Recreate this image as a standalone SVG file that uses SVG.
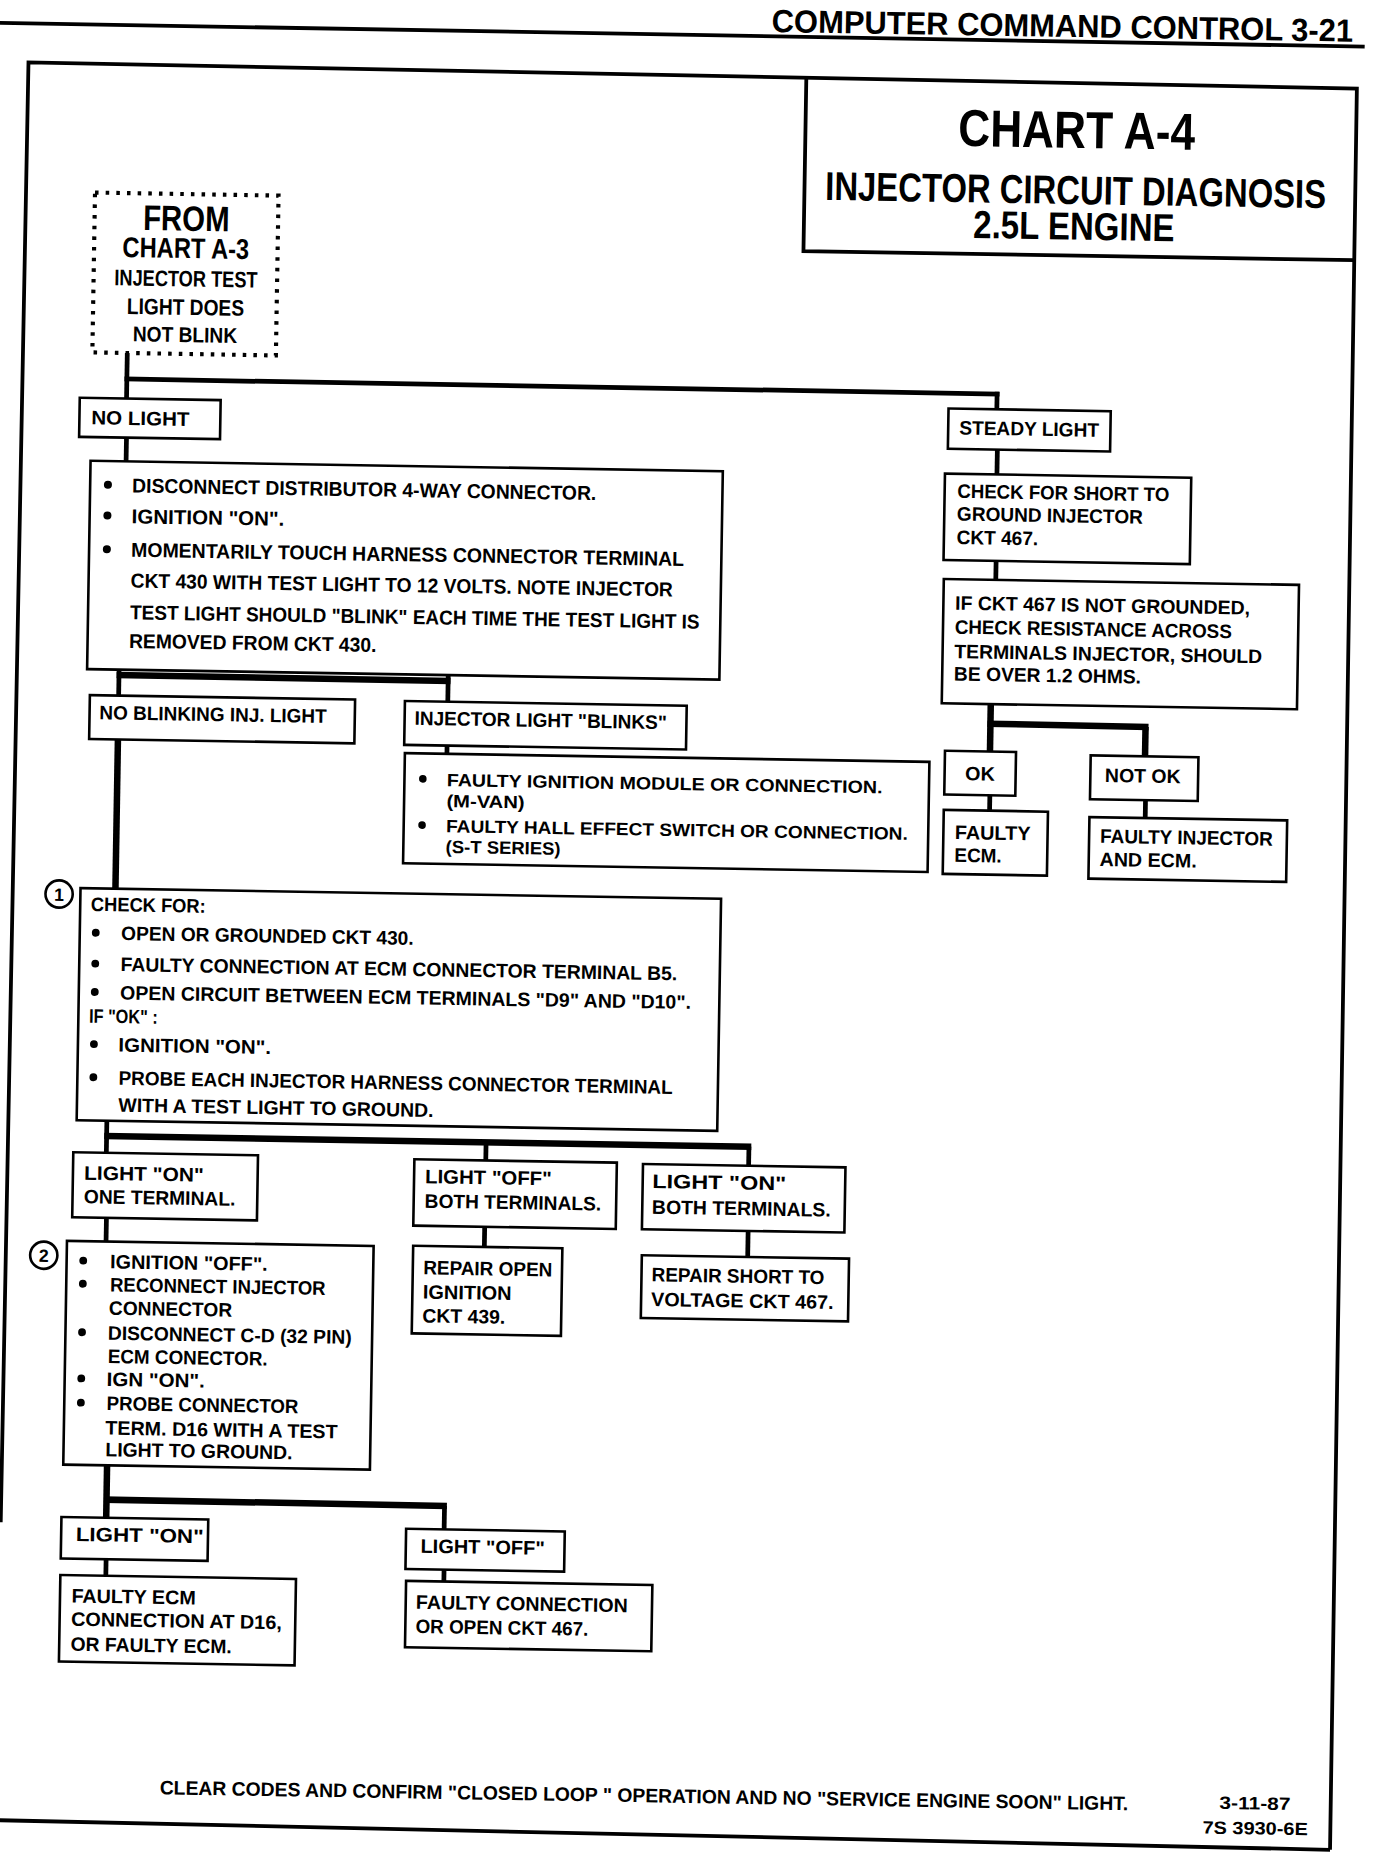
<svg xmlns="http://www.w3.org/2000/svg" width="1376" height="1856" viewBox="0 0 1376 1856">
<style>
.b{fill:#fff;stroke:#000;stroke-width:2.2}
.c{fill:none;stroke:#000;stroke-width:4}
.k{stroke-width:5.5}
.f{fill:none;stroke:#000;stroke-width:3.2}
.t{font-family:"Liberation Sans",Arial,sans-serif;font-weight:700;fill:#000}
.s15{font-size:15px}.s16{font-size:16.5px}.s17{font-size:17px}
.m{text-anchor:middle}
.d{fill:#000}
</style>
<rect width="1376" height="1856" fill="#fff"/>
<g transform="scale(1.18417) rotate(0.95 581 784)">
<g id="frame">
<path class="f" d="M-20,29 L1140,30" stroke-width="3.8"/>
<text class="t" x="639" y="26" font-size="27" textLength="491" lengthAdjust="spacingAndGlyphs">COMPUTER COMMAND CONTROL  3-21</text>
<path class="f" d="M9,1295 L12,62 L1134,65.6 L1136,1553"/>
<path class="f" d="M-20,1546.5 L1136,1553" stroke-width="3.8"/>
<text class="t s16" x="147" y="1522.5" textLength="818" lengthAdjust="spacingAndGlyphs">CLEAR CODES AND CONFIRM "CLOSED LOOP " OPERATION AND NO "SERVICE ENGINE SOON" LIGHT.</text>
<text class="t s15" x="1042" y="1520" textLength="60" lengthAdjust="spacingAndGlyphs">3-11-87</text>
<text class="t s15" x="1028" y="1541" textLength="89" lengthAdjust="spacingAndGlyphs">7S 3930-6E</text>
</g>
<g id="title">
<path class="f" d="M669,65 L669,210.5 L1134,210.5" stroke-width="2.6"/>
<text class="t m" x="898" y="119.5" font-size="44" textLength="200" lengthAdjust="spacingAndGlyphs">CHART A-4</text>
<text class="t m" x="898" y="167" font-size="34" textLength="423" lengthAdjust="spacingAndGlyphs">INJECTOR CIRCUIT DIAGNOSIS</text>
<text class="t m" x="897" y="197" font-size="33" textLength="170" lengthAdjust="spacingAndGlyphs">2.5L ENGINE</text>
</g>
<g id="connectors">
<line class="c" x1="99.5" y1="305" x2="99.5" y2="344"/>
<line class="c" x1="97.5" y1="328" x2="836.5" y2="328.5"/>
<line class="c" x1="834.5" y1="326.5" x2="834.5" y2="341"/>
<line class="c" x1="100" y1="377" x2="100" y2="397.5"/>
<line class="c" x1="97" y1="573" x2="97" y2="595.5"/>
<line class="c k" x1="95" y1="578" x2="377" y2="578.5"/>
<line class="c" x1="375" y1="573.5" x2="375" y2="596"/>
<line class="c" x1="375" y1="633" x2="375" y2="640"/>
<line class="c k" x1="97" y1="632.5" x2="97" y2="758.5"/>
<line class="c" x1="93" y1="954.5" x2="93" y2="981.5"/>
<line class="c k" x1="91" y1="967.5" x2="637.5" y2="967.5"/>
<line class="c" x1="413.5" y1="967.5" x2="413.5" y2="983"/>
<line class="c" x1="635.5" y1="967.5" x2="635.5" y2="983.5"/>
<line class="c" x1="413.5" y1="1038.5" x2="413.5" y2="1055.8"/>
<line class="c" x1="636" y1="1038.5" x2="636" y2="1060.5"/>
<line class="c" x1="94" y1="1036.5" x2="94" y2="1056.5"/>
<line class="c k" x1="98" y1="1245.5" x2="98" y2="1290"/>
<line class="c k" x1="96" y1="1274.5" x2="385.5" y2="1275"/>
<line class="c" x1="383.5" y1="1275" x2="383.5" y2="1295"/>
<line class="c" x1="98.5" y1="1325" x2="98.5" y2="1339"/>
<line class="c" x1="384" y1="1329" x2="384" y2="1339"/>
<line class="c" x1="835.5" y1="375.5" x2="835.5" y2="396.5"/>
<line class="c" x1="836" y1="469.5" x2="836" y2="485.5"/>
<line class="c k" x1="833.5" y1="590.5" x2="833.5" y2="630.5"/>
<line class="c k" x1="831" y1="607" x2="967" y2="607.5"/>
<line class="c k" x1="964.5" y1="607.5" x2="964.5" y2="632.5"/>
<line class="c" x1="834" y1="667.5" x2="834" y2="680.5"/>
<line class="c" x1="965.5" y1="669.5" x2="965.5" y2="684.5"/>
</g>
<g id="from">
<rect x="70" y="171" width="155" height="135" fill="#fff" stroke="#000" stroke-width="3.5" stroke-dasharray="3 6"/>
<text class="t m" x="147.5" y="202" font-size="30" textLength="73" lengthAdjust="spacingAndGlyphs">FROM</text>
<text class="t m" x="147.5" y="225" font-size="24" textLength="107" lengthAdjust="spacingAndGlyphs">CHART A-3</text>
<text class="t m" x="148" y="249" font-size="19" textLength="121" lengthAdjust="spacingAndGlyphs">INJECTOR TEST</text>
<text class="t m" x="148" y="273" font-size="19" textLength="99" lengthAdjust="spacingAndGlyphs">LIGHT DOES</text>
<text class="t m" x="148" y="296" font-size="18" textLength="88" lengthAdjust="spacingAndGlyphs">NOT BLINK</text>
</g>
<g id="no-light">
<rect class="b" x="60" y="344.5" width="119" height="33"/>
<text class="t s16" x="70" y="366.7" textLength="83" lengthAdjust="spacingAndGlyphs">NO LIGHT</text>
</g>
<g id="step1">
<rect class="b" x="70" y="397.5" width="534" height="176"/>
<circle class="d" cx="85" cy="417.5" r="3.4"/><circle class="d" cx="85" cy="443.5" r="3.4"/><circle class="d" cx="85" cy="472" r="3.4"/>
<text class="t s17" x="105.5" y="423.7" textLength="392" lengthAdjust="spacingAndGlyphs">DISCONNECT DISTRIBUTOR 4-WAY CONNECTOR.</text>
<text class="t s17" x="105.5" y="449.8" textLength="129" lengthAdjust="spacingAndGlyphs">IGNITION "ON".</text>
<text class="t s17" x="105.5" y="478" textLength="467" lengthAdjust="spacingAndGlyphs">MOMENTARILY TOUCH HARNESS CONNECTOR TERMINAL</text>
<text class="t s17" x="105.5" y="504" textLength="458" lengthAdjust="spacingAndGlyphs">CKT 430 WITH TEST LIGHT TO 12 VOLTS.  NOTE INJECTOR</text>
<text class="t s17" x="105.5" y="530.8" textLength="481" lengthAdjust="spacingAndGlyphs">TEST LIGHT SHOULD "BLINK" EACH TIME THE TEST LIGHT IS</text>
<text class="t s17" x="105" y="555" textLength="209" lengthAdjust="spacingAndGlyphs">REMOVED FROM CKT 430.</text>
</g>
<g id="no-blinking">
<rect class="b" x="72.7" y="595.4" width="224" height="37"/>
<text class="t s16" x="81" y="615.6" textLength="192" lengthAdjust="spacingAndGlyphs">NO BLINKING INJ. LIGHT</text>
</g>
<g id="light-blinks">
<rect class="b" x="338.8" y="596" width="238" height="37"/>
<text class="t s16" x="347.2" y="616" textLength="213" lengthAdjust="spacingAndGlyphs">INJECTOR LIGHT "BLINKS"</text>
</g>
<g id="faulty-module">
<rect class="b" x="339.5" y="640" width="443" height="93"/>
<circle class="d" cx="355" cy="661.5" r="3.2"/><circle class="d" cx="355" cy="700.5" r="3.2"/>
<text class="t s15" x="375.3" y="667.3" textLength="368" lengthAdjust="spacingAndGlyphs">FAULTY IGNITION MODULE OR CONNECTION.</text>
<text class="t s15" x="375.3" y="685" textLength="66" lengthAdjust="spacingAndGlyphs">(M-VAN)</text>
<text class="t s15" x="375.3" y="706.2" textLength="390" lengthAdjust="spacingAndGlyphs">FAULTY HALL EFFECT SWITCH OR CONNECTION.</text>
<text class="t s15" x="375.3" y="723.7" textLength="97" lengthAdjust="spacingAndGlyphs">(S-T SERIES)</text>
</g>
<g id="check-for">
<circle cx="49.5" cy="763.8" r="11.5" fill="#fff" stroke="#000" stroke-width="2.2"/>
<text class="t m" x="49.5" y="769.5" font-size="15">1</text>
<rect class="b" x="67.5" y="758.5" width="541" height="196"/>
<text class="t s16" x="76.5" y="777.6" textLength="97" lengthAdjust="spacingAndGlyphs">CHECK FOR:</text>
<circle class="d" cx="81" cy="796" r="3.3"/><circle class="d" cx="81" cy="822" r="3.3"/><circle class="d" cx="81" cy="846" r="3.3"/><circle class="d" cx="81" cy="890" r="3.3"/><circle class="d" cx="81" cy="918" r="3.3"/>
<text class="t s16" x="102.5" y="801.8" textLength="247" lengthAdjust="spacingAndGlyphs">OPEN OR GROUNDED CKT 430.</text>
<text class="t s16" x="102.5" y="828" textLength="470" lengthAdjust="spacingAndGlyphs">FAULTY CONNECTION AT ECM CONNECTOR TERMINAL B5.</text>
<text class="t s16" x="102.5" y="852" textLength="482" lengthAdjust="spacingAndGlyphs">OPEN CIRCUIT BETWEEN ECM TERMINALS "D9" AND "D10".</text>
<text class="t s16" x="76.5" y="872" textLength="58" lengthAdjust="spacingAndGlyphs">IF "OK" :</text>
<text class="t s16" x="101.7" y="896" textLength="129" lengthAdjust="spacingAndGlyphs">IGNITION "ON".</text>
<text class="t s16" x="102.3" y="924" textLength="468" lengthAdjust="spacingAndGlyphs">PROBE EACH  INJECTOR HARNESS CONNECTOR TERMINAL</text>
<text class="t s16" x="102.6" y="946.8" textLength="266" lengthAdjust="spacingAndGlyphs">WITH A TEST LIGHT TO GROUND.</text>
</g>
<g id="on-one">
<rect class="b" x="65.1" y="981.6" width="156" height="55"/>
<text class="t s16" x="74.6" y="1004.6" textLength="101" lengthAdjust="spacingAndGlyphs">LIGHT  "ON"</text>
<text class="t s16" x="74.6" y="1024.5" textLength="128" lengthAdjust="spacingAndGlyphs">ONE TERMINAL.</text>
</g>
<g id="off-both">
<rect class="b" x="353.2" y="982.8" width="171" height="56"/>
<text class="t s16" x="362.5" y="1002.8" textLength="107" lengthAdjust="spacingAndGlyphs">LIGHT  "OFF"</text>
<text class="t s16" x="362.5" y="1023.5" textLength="149" lengthAdjust="spacingAndGlyphs">BOTH TERMINALS.</text>
</g>
<g id="on-both">
<rect class="b" x="546.3" y="983.6" width="171" height="55"/>
<text class="t s16" x="554.5" y="1003.7" textLength="113" lengthAdjust="spacingAndGlyphs">LIGHT "ON"</text>
<text class="t s16" x="554.5" y="1025.4" textLength="151" lengthAdjust="spacingAndGlyphs">BOTH TERMINALS.</text>
</g>
<g id="repair-open">
<rect class="b" x="353.4" y="1055.8" width="126" height="74"/>
<text class="t s16" x="362.2" y="1079.8" textLength="109" lengthAdjust="spacingAndGlyphs">REPAIR OPEN</text>
<text class="t s16" x="362.2" y="1100.3" textLength="75" lengthAdjust="spacingAndGlyphs">IGNITION</text>
<text class="t s16" x="362.2" y="1120.4" textLength="70" lengthAdjust="spacingAndGlyphs">CKT 439.</text>
</g>
<g id="repair-short">
<rect class="b" x="546.6" y="1060.6" width="175" height="53"/>
<text class="t s16" x="555.1" y="1082.5" textLength="146" lengthAdjust="spacingAndGlyphs">REPAIR SHORT TO</text>
<text class="t s16" x="555.1" y="1103.4" textLength="154" lengthAdjust="spacingAndGlyphs">VOLTAGE CKT 467.</text>
</g>
<g id="step2">
<circle cx="41.6" cy="1069" r="11.5" fill="#fff" stroke="#000" stroke-width="2.2"/>
<text class="t m" x="41.6" y="1074.5" font-size="15">2</text>
<rect class="b" x="61" y="1056.5" width="259" height="189"/>
<circle class="d" cx="75" cy="1073" r="3.3"/><circle class="d" cx="75" cy="1092.5" r="3.3"/><circle class="d" cx="75" cy="1133.5" r="3.3"/><circle class="d" cx="75" cy="1172.5" r="3.3"/><circle class="d" cx="75" cy="1193" r="3.3"/>
<text class="t s16" x="97.8" y="1079.1" textLength="133" lengthAdjust="spacingAndGlyphs">IGNITION "OFF".</text>
<text class="t s16" x="98" y="1098.6" textLength="182" lengthAdjust="spacingAndGlyphs">RECONNECT INJECTOR</text>
<text class="t s16" x="97.4" y="1118.3" textLength="104" lengthAdjust="spacingAndGlyphs">CONNECTOR</text>
<text class="t s16" x="96.8" y="1139.5" textLength="206" lengthAdjust="spacingAndGlyphs">DISCONNECT C-D (32 PIN)</text>
<text class="t s16" x="97.1" y="1159.1" textLength="135" lengthAdjust="spacingAndGlyphs">ECM CONECTOR.</text>
<text class="t s16" x="96.4" y="1178.5" textLength="83" lengthAdjust="spacingAndGlyphs">IGN "ON".</text>
<text class="t s16" x="96.8" y="1198.8" textLength="162" lengthAdjust="spacingAndGlyphs">PROBE CONNECTOR</text>
<text class="t s16" x="96.1" y="1219.6" textLength="196" lengthAdjust="spacingAndGlyphs">TERM. D16 WITH A TEST</text>
<text class="t s16" x="96.4" y="1237.9" textLength="158" lengthAdjust="spacingAndGlyphs">LIGHT TO GROUND.</text>
</g>
<g id="light-on">
<rect class="b" x="60.2" y="1289.8" width="124" height="35"/>
<text class="t s16" x="72.6" y="1309.8" textLength="108" lengthAdjust="spacingAndGlyphs">LIGHT "ON"</text>
</g>
<g id="light-off">
<rect class="b" x="351.4" y="1294.9" width="134" height="34"/>
<text class="t s16" x="363.8" y="1315" textLength="105" lengthAdjust="spacingAndGlyphs">LIGHT "OFF"</text>
</g>
<g id="faulty-ecm-d16">
<rect class="b" x="60.1" y="1338.8" width="199" height="73"/>
<text class="t s16" x="69.8" y="1361.8" textLength="105" lengthAdjust="spacingAndGlyphs">FAULTY ECM</text>
<text class="t s16" x="69.8" y="1381.5" textLength="178" lengthAdjust="spacingAndGlyphs">CONNECTION AT D16,</text>
<text class="t s16" x="69.8" y="1402.6" textLength="136" lengthAdjust="spacingAndGlyphs">OR FAULTY ECM.</text>
</g>
<g id="faulty-connection">
<rect class="b" x="352.1" y="1338.9" width="208" height="56"/>
<text class="t s16" x="360.7" y="1362.3" textLength="179" lengthAdjust="spacingAndGlyphs">FAULTY CONNECTION</text>
<text class="t s16" x="360.7" y="1382.7" textLength="146" lengthAdjust="spacingAndGlyphs">OR OPEN CKT 467.</text>
</g>
<g id="steady-light">
<rect class="b" x="793.7" y="341.4" width="137" height="34"/>
<text class="t s16" x="803.1" y="363.2" textLength="118" lengthAdjust="spacingAndGlyphs">STEADY LIGHT</text>
</g>
<g id="check-short">
<rect class="b" x="791.6" y="396.4" width="208" height="73"/>
<text class="t s16" x="802.3" y="416.7" textLength="179" lengthAdjust="spacingAndGlyphs">CHECK FOR SHORT TO</text>
<text class="t s16" x="802.3" y="435.9" textLength="157" lengthAdjust="spacingAndGlyphs">GROUND INJECTOR</text>
<text class="t s16" x="802.3" y="455.7" textLength="69" lengthAdjust="spacingAndGlyphs">CKT 467.</text>
</g>
<g id="check-resistance">
<rect class="b" x="792.1" y="485.4" width="300" height="105"/>
<text class="t s16" x="802" y="511.2" textLength="249" lengthAdjust="spacingAndGlyphs">IF CKT 467 IS NOT GROUNDED,</text>
<text class="t s16" x="802" y="531.4" textLength="234" lengthAdjust="spacingAndGlyphs">CHECK RESISTANCE  ACROSS</text>
<text class="t s16" x="802" y="552.1" textLength="260" lengthAdjust="spacingAndGlyphs">TERMINALS INJECTOR,  SHOULD</text>
<text class="t s16" x="802" y="571" textLength="158" lengthAdjust="spacingAndGlyphs">BE OVER 1.2 OHMS.</text>
</g>
<g id="ok">
<rect class="b" x="795.5" y="630.4" width="60" height="37"/>
<text class="t s16" x="812.9" y="655" textLength="25" lengthAdjust="spacingAndGlyphs">OK</text>
</g>
<g id="not-ok">
<rect class="b" x="918.6" y="632.3" width="91" height="37"/>
<text class="t s16" x="930.9" y="654.6" textLength="64" lengthAdjust="spacingAndGlyphs">NOT OK</text>
</g>
<g id="faulty-ecm">
<rect class="b" x="795.3" y="680.4" width="88" height="54"/>
<text class="t s16" x="804.9" y="704.8" textLength="64" lengthAdjust="spacingAndGlyphs">FAULTY</text>
<text class="t s16" x="804.9" y="724" textLength="40" lengthAdjust="spacingAndGlyphs">ECM.</text>
</g>
<g id="faulty-injector">
<rect class="b" x="918.4" y="684.4" width="167" height="52"/>
<text class="t s16" x="927.6" y="706" textLength="146" lengthAdjust="spacingAndGlyphs">FAULTY INJECTOR</text>
<text class="t s16" x="927.6" y="725.6" textLength="82" lengthAdjust="spacingAndGlyphs">AND ECM.</text>
</g>
</g>
</svg>
